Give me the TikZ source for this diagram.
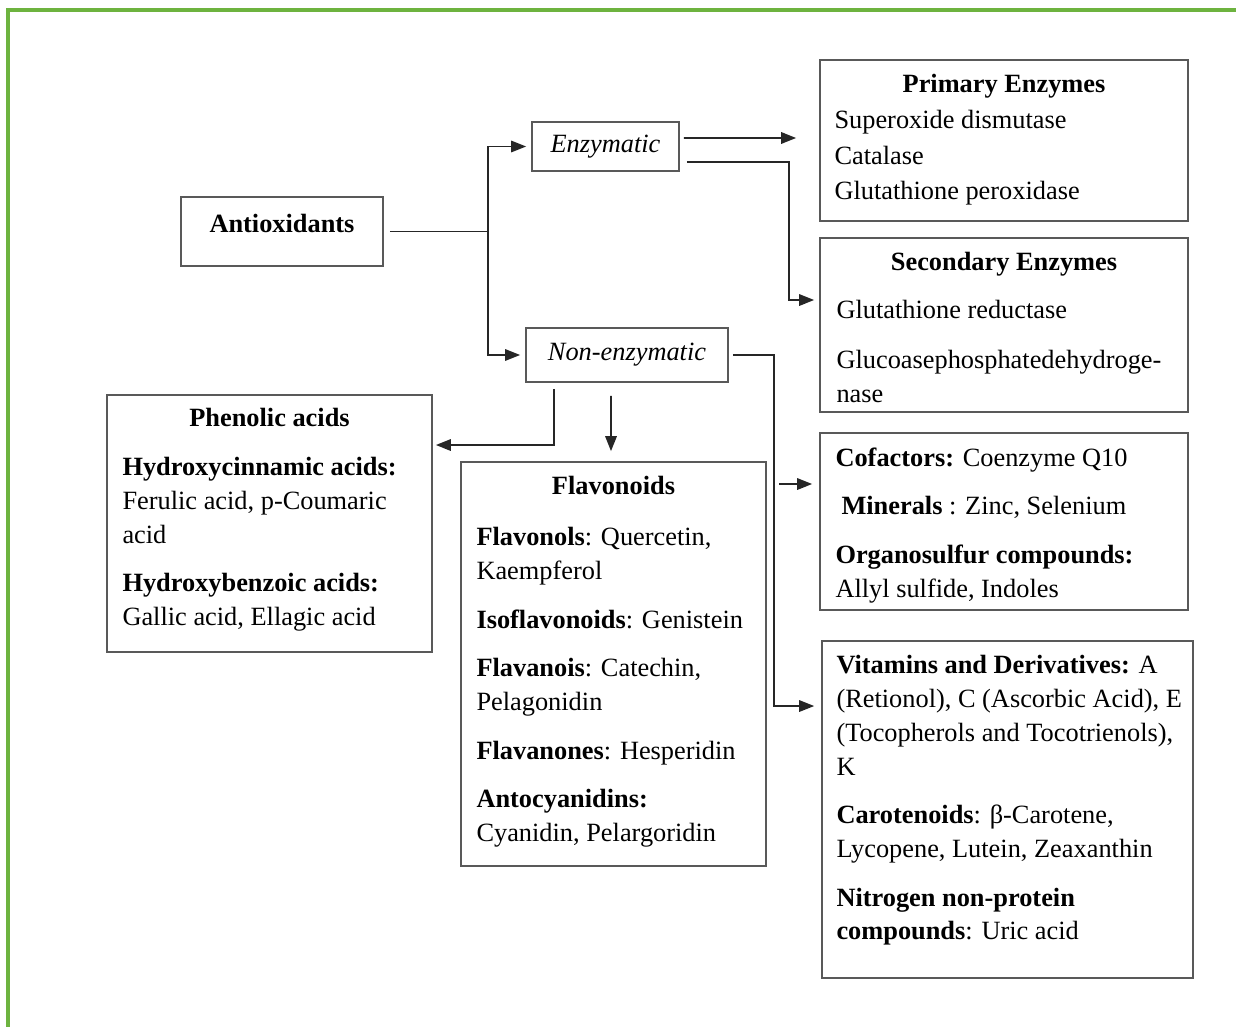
\documentclass[tikz,border=0pt]{standalone}
\usepackage{fontspec}
\setmainfont{Liberation Serif}
\usetikzlibrary{arrows.meta}
\definecolor{framegreen}{HTML}{6DB33F}
\newcommand{\boxfont}{\fontsize{15}{19.2}\selectfont}

\begin{document}
\begin{tikzpicture}[x=0.02cm, y=-0.02cm, font=\boxfont,
  box/.style={draw=black!65, line width=1pt, inner sep=0pt},
  head/.style={font=\boxfont\bfseries, inner sep=0pt, anchor=north},
  body/.style={inner sep=0pt, anchor=north west, align=left},
  link/.style={draw=black!85, line width=1pt},
  arr/.style={link, -{Triangle[length=8.5pt,width=6.5pt]}}]
  \useasboundingbox (0,0) rectangle (1236,1027);
  % green frame: only its top and left edges are in view
  \draw[line width=1.8pt, framegreen] (1236,10) -- (8,10) -- (8,1027);

  % root and the two branches
  \node[box, minimum width=4.04cm, minimum height=1.38cm] (anti) at (282,231.5) {};
  \node[head, anchor=center] (antiT) at (282,223) {Antioxidants};
  \node[box, minimum width=2.94cm, minimum height=0.98cm, font=\boxfont\itshape] (enz) at (605.5,146.5) {Enzymatic};
  \node[box, minimum width=4.04cm, minimum height=1.08cm, font=\boxfont\itshape] (non) at (627,355) {Non-enzymatic};

  % enzyme boxes
  \node[box, minimum width=7.36cm, minimum height=3.22cm] (prim) at (1004,140.5) {};
  \node[head] (primT) at ([yshift=-0.3cm]prim.north) {Primary Enzymes};
  \node[body] (primB) at ([shift={(0.3cm,-1.02cm)}]prim.north west)
    {Superoxide dismutase\\[1pt]Catalase\\[1pt]Glutathione peroxidase};

  \node[box, minimum width=7.36cm, minimum height=3.48cm] (sec) at (1004,325) {};
  \node[head] (secT) at ([yshift=-0.3cm]sec.north) {Secondary Enzymes};
  \node[body] (secB) at ([shift={(0.34cm,-1.26cm)}]sec.north west)
    {Glutathione reductase\\[9pt]Glucoasephosphatedehydroge-\\nase};

  % non-enzymatic boxes
  \node[box, minimum width=6.5cm, minimum height=5.14cm] (phen) at (269.5,523.5) {};
  \node[head] (phenT) at ([yshift=-0.28cm]phen.north) {Phenolic acids};
  \node[body] (phenB) at ([shift={(0.32cm,-1.26cm)}]phen.north west)
    {\textbf{Hydroxycinnamic acids:}\\Ferulic acid, p-Coumaric\\acid\\[8.5pt]
     \textbf{Hydroxybenzoic acids:}\\Gallic acid, Ellagic acid};

  \node[box, minimum width=6.1cm, minimum height=8.08cm] (flav) at (613.5,664) {};
  \node[head] (flavT) at ([yshift=-0.3cm]flav.north) {Flavonoids};
  \node[body] (flavB) at ([shift={(0.32cm,-1.32cm)}]flav.north west)
    {\textbf{Flavonols}: Quercetin,\\Kaempferol\\[8.5pt]
     \textbf{Isoflavonoids}: Genistein\\[8.5pt]
     \textbf{Flavanois}: Catechin,\\Pelagonidin\\[8.5pt]
     \textbf{Flavanones}: Hesperidin\\[8.5pt]
     \textbf{Antocyanidins:}\\Cyanidin, Pelargoridin};

  \node[box, minimum width=7.36cm, minimum height=3.54cm] (cof) at (1004,521.5) {};
  \node[body] (cofB) at ([shift={(0.32cm,-0.3cm)}]cof.north west)
    {\textbf{Cofactors:} Coenzyme Q10\\[8.5pt]
     \hspace{0.12cm}\textbf{Minerals} : Zinc, Selenium\\[8.5pt]
     \textbf{Organosulfur compounds:}\\Allyl sulfide, Indoles};

  \node[box, minimum width=7.42cm, minimum height=6.74cm] (vit) at (1007.5,809.5) {};
  \node[body] (vitB) at ([shift={(0.3cm,-0.3cm)}]vit.north west)
    {\textbf{Vitamins and Derivatives:} A\\(Retionol), C (Ascorbic Acid), E\\
     (Tocopherols and Tocotrienols),\\K\\[8.5pt]
     \textbf{Carotenoids}: β-Carotene,\\Lycopene, Lutein, Zeaxanthin\\[8.5pt]
     \textbf{Nitrogen non-protein}\\\textbf{compounds}: Uric acid};

  % connectors
  \coordinate (split) at ([xshift=2.08cm]anti.east);
  \draw[link] ([xshift=0.12cm]anti.east) -- (split);
  \draw[arr] (split) |- ([xshift=-0.1cm]enz.west);
  \draw[arr] (split) |- ([xshift=-0.1cm]non.west);

  \draw[arr] ([shift={(0.08cm,0.17cm)}]enz.east) -- ([shift={(-0.46cm,0.05cm)}]prim.west);
  \draw[arr] ([shift={(0.14cm,-0.31cm)}]enz.east) -| ([shift={(-0.6cm,0.5cm)}]sec.west)
    -- ([shift={(-0.1cm,0.5cm)}]sec.west);

  \draw[arr] ([xshift=0.08cm]non.east) -| ([shift={(-0.94cm,2.07cm)}]vit.west)
    -- ([shift={(-0.14cm,2.07cm)}]vit.west);
  \draw[arr] ([shift={(-0.8cm,0.75cm)}]cof.west) -- ([shift={(-0.14cm,0.75cm)}]cof.west);
  \draw[arr] ([shift={(-1.46cm,-0.12cm)}]non.south) |- ([shift={(0.06cm,1.57cm)}]phen.east);
  \draw[arr] ([shift={(-0.32cm,-0.26cm)}]non.south) -- ([shift={(-0.05cm,0.2cm)}]flav.north);
\end{tikzpicture}
\end{document}
